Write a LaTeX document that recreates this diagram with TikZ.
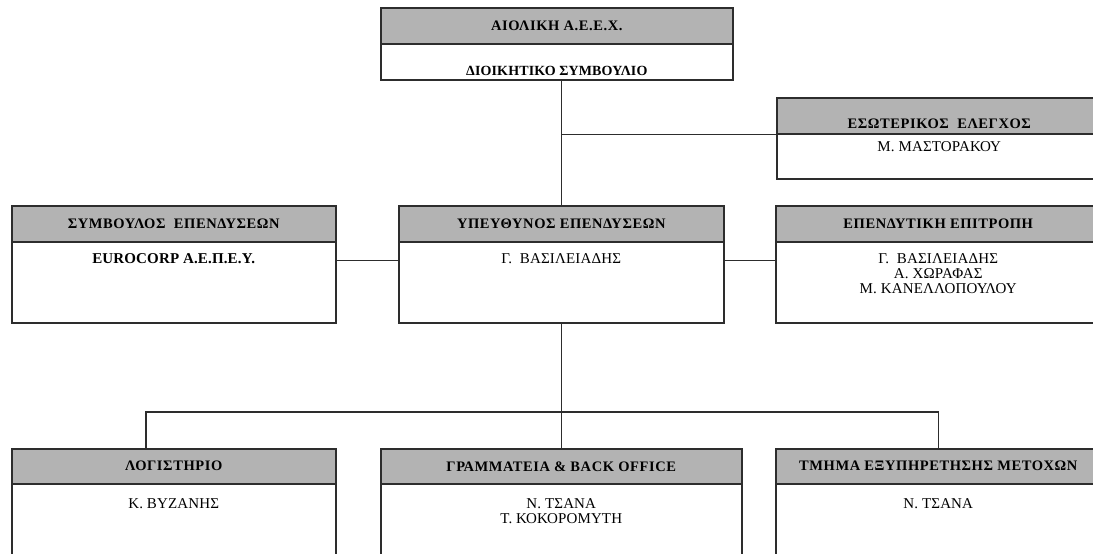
\documentclass[tikz,border=0pt]{standalone}
\usepackage{fontspec}
\setmainfont{Liberation Serif}
\newfontfamily\hdfont{Liberation Serif}[LetterSpace=4]
\newfontfamily\bdfont{Liberation Serif}[LetterSpace=1]
\definecolor{hdrgray}{RGB}{179,179,179}
\definecolor{edgegray}{RGB}{45,45,45}
\begin{document}
\begin{tikzpicture}[x=1pt, y=-1pt,
    unitbox/.style={draw=edgegray, line width=1.5pt, fill=white, inner sep=0pt},
    unithead/.style={draw=edgegray, line width=1.5pt, fill=hdrgray, inner sep=0pt},
    unittitle/.style={inner sep=0pt, font=\hdfont\bfseries\fontsize{14.5}{16}\selectfont},
    unitbody/.style={inner sep=0pt, align=center, font=\bdfont\fontsize{15}{15}\selectfont},
    link/.style={draw=edgegray, line width=1.2pt}]
    \useasboundingbox (0,0) rectangle (1093,554);
    \clip (0,0) rectangle (1093,554);
    % name / left / top / width / height / head height / title shift / body gap / title / body
    \foreach \nm/\x/\y/\w/\h/\hh/\ty/\by/\title/\body in {
        top/380/7/352/72/36/0/22/{ΑΙΟΛΙΚΗ Α.Ε.Ε.Χ.}/{\bfseries\fontsize{14}{15}\selectfont ΔΙΟΙΚΗΤΙΚΟ ΣΥΜΒΟΥΛΙΟ},
        esot/776/97/325/81/36/-8/7/{ΕΣΩΤΕΡΙΚΟΣ\ \ ΕΛΕΓΧΟΣ}/{Μ. ΜΑΣΤΟΡΑΚΟΥ},
        symv/11/205/324/117/36/0/11/{ΣΥΜΒΟΥΛΟΣ\ \ ΕΠΕΝΔΥΣΕΩΝ}/{\bfseries EUROCORP Α.Ε.Π.Ε.Υ.},
        yp/398/205/325/117/36/0/11/{ΥΠΕΥΘΥΝΟΣ ΕΠΕΝΔΥΣΕΩΝ}/{Γ.\ \ ΒΑΣΙΛΕΙΑΔΗΣ},
        epit/775/205/325/117/36/0/11/{ΕΠΕΝΔΥΤΙΚΗ ΕΠΙΤΡΟΠΗ}/{Γ.\ \ ΒΑΣΙΛΕΙΑΔΗΣ\\Α. ΧΩΡΑΦΑΣ\\Μ. ΚΑΝΕΛΛΟΠΟΥΛΟΥ},
        log/11/448/324/130/35/0/14/{ΛΟΓΙΣΤΗΡΙΟ}/{Κ. ΒΥΖΑΝΗΣ},
        gram/380/448/361/130/35/0/14/{ΓΡΑΜΜΑΤΕΙΑ \& BACK OFFICE}/{Ν. ΤΣΑΝΑ\\Τ. ΚΟΚΟΡΟΜΥΤΗ},
        tm/775/448/325/130/35/0/14/{ΤΜΗΜΑ ΕΞΥΠΗΡΕΤΗΣΗΣ ΜΕΤΟΧΩΝ}/{Ν. ΤΣΑΝΑ}}{
        \node[unitbox, minimum width=\w pt, minimum height=\h pt, anchor=north west] (\nm) at (\x,\y) {};
        \node[unithead, minimum width=\w pt, minimum height=\hh pt, anchor=north] (\nm-h) at (\nm.north) {};
        \node[unittitle] (\nm-t) at ([yshift=\ty pt]\nm-h.center) {\title};
        \node[unitbody, anchor=north] (\nm-b) at ([yshift=-\by pt]\nm-h.south) {\body};
    }
    % the spine and its branches
    \coordinate (busL) at (146,412);
    \draw[link] (yp.north |- top.south) -- (yp.north);
    \draw[link] (esot-h.south west -| yp.north) -- (esot-h.south west);
    \draw[link] ([yshift=4pt]symv.east) -- ([yshift=4pt]yp.west);
    \draw[link] ([yshift=4pt]yp.east) -- ([yshift=4pt]epit.west);
    \draw[link] (yp.south) -- (gram.north);
    \draw[link] (busL |- log.north) -- (busL) -- (busL -| tm.north) -- (tm.north);
\end{tikzpicture}
\end{document}
